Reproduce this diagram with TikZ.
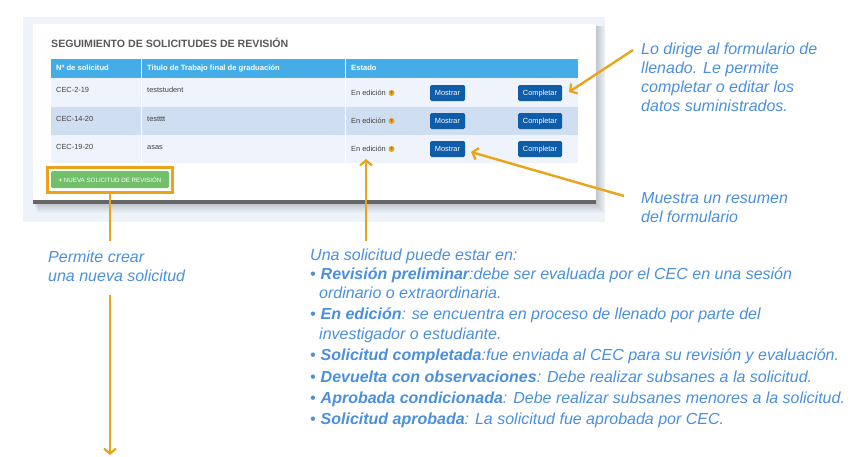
\documentclass[tikz,border=0pt]{standalone}
\usepackage{fontspec}
\setmainfont{Liberation Sans}
\usetikzlibrary{arrows.meta}
\definecolor{fondo}{HTML}{EEF2F9}
\definecolor{cabecera}{HTML}{44ACE6}
\definecolor{filaA}{HTML}{EFF4FC}
\definecolor{filaB}{HTML}{CFDEF1}
\definecolor{boton}{HTML}{0F5CA8}
\definecolor{verde}{HTML}{72BF6A}
\definecolor{naranja}{HTML}{E9A419}
\definecolor{azultexto}{HTML}{4A8FDC}
\definecolor{gris}{HTML}{595959}
\newcommand{\estado}[2]{\makebox[10.5pt][l]{\textbullet}\textbf{#1}#2}
\tikzset{
	celda/.style={anchor=west, inner sep=0pt, text height=5.5pt, text depth=1.5pt, font=\fontsize{7.4}{9}\selectfont, text=black!75},
	titulocol/.style={anchor=west, inner sep=0pt, text height=5.5pt, text depth=1.5pt, font=\bfseries\fontsize{7.6}{9}\selectfont, text=white},
	boton/.style={rectangle, rounded corners=1.5pt, fill=boton, text=white, inner sep=0pt, minimum height=16pt, text height=5.5pt, text depth=1.5pt, font=\fontsize{7.4}{9}\selectfont},
	nota/.style={anchor=north west, inner sep=0pt, align=left, text=azultexto, font=\itshape\fontsize{16}{19.2}\selectfont},
	flecha/.style={draw=naranja, line width=2.4pt, -{Straight Barb[length=5pt,width=12pt,line width=2.2pt]}},
	linea/.style={draw=naranja, line width=2.4pt}
}
\begin{document}
\begin{tikzpicture}[x=1pt, y=-1pt]
	\useasboundingbox (0,0) rectangle (850,456);
	% Panel
	\fill [fondo] (23,17) rectangle (605,222);
	\foreach \s in {1,2,...,9} {
		\fill [black, opacity=.02] (33+\s/2,26) rectangle (596+\s,204+\s);
	}
	\fill [white] (33,24) rectangle (596,200);
	\fill [black!60] (33,200) rectangle (596,204);
	\node [anchor=base west, inner sep=0pt, text=gris, font=\bfseries\fontsize{10.6}{12}\selectfont] (titulo) at (51,47) {SEGUIMIENTO DE SOLICITUDES DE REVISIÓN};
	% Table
	\fill [cabecera] (51,59) rectangle (578,78);
	\fill [filaA] (51,78) rectangle (578,107);
	\fill [filaB] (51,107) rectangle (578,135);
	\fill [filaA] (51,135) rectangle (578,163);
	\fill [white] (140.5,59) rectangle (141.5,163);
	\fill [white] (344.5,59) rectangle (345.5,163);
	\node [titulocol] (colnum) at (56,68) {Nº de solicitud};
	\node [titulocol] (coltit) at (147,68) {Titulo de Trabajo final de graduación};
	\node [titulocol] (colest) at (351,68) {Estado};
	% Rows
	\foreach \i/\y/\num/\tit in {1/90.5/CEC-2-19/teststudent,2/119/CEC-14-20/testttt,3/147/CEC-19-20/asas} {
		\node [celda] (num\i) at (56,\y) {\num};
		\node [celda] (tit\i) at (147,\y) {\tit};
	}
	\foreach \i/\y in {1/93,2/121,3/149} {
		\node [celda] (est\i) at (351,\y) {En edición};
		\node [circle, fill=naranja, inner sep=0pt, minimum size=6pt, text=black!70, font=\bfseries\fontsize{4}{4}\selectfont] (ayuda\i) at (391.5,\y) {?};
		\node [boton, minimum width=35pt] (mostrar\i) at (447.5,\y) {Mostrar};
		\node [boton, minimum width=44pt] (completar\i) at (540,\y) {Completar};
	}
	% Green button
	\node [rectangle, rounded corners=1.5pt, fill=verde, text=white, inner sep=0pt, minimum width=118pt, minimum height=17pt, font=\fontsize{6.2}{7}\selectfont] (nueva) at (110,179.5) {\textbf{+} NUEVA SOLICITUD DE REVISIÓN};
	\node [rectangle, draw=naranja, line width=2.2pt, minimum width=125pt, minimum height=25pt, inner sep=0pt] (marco) at (110,180) {};
	% Notes
	\node [nota] (permite) at (48,250.5) {Permite crear\\una nueva solicitud};
	\node [nota] (lodirige) at (641,42.5) {Lo dirige al formulario de\\llenado. Le permite\\completar o editar los\\datos suministrados.};
	\node [nota] (muestra) at (641,192.5) {Muestra un resumen\\del formulario};
	\node [nota] (intro) at (310,248.5) {Una solicitud puede estar en:};
	\node [nota] (rev) at (310,267.5) {\estado{Revisión preliminar}{:debe ser evaluada por el CEC en una sesión}\\\hspace*{9pt}ordinario o extraordinaria.};
	\node [nota] (edi) at (310,308) {\estado{En edición}{: se encuentra en proceso de llenado por parte del}\\\hspace*{9pt}investigador o estudiante.};
	\node [nota] (comp) at (310,349) {\estado{Solicitud completada}{:fue enviada al CEC para su revisión y evaluación.}};
	\node [nota] (dev) at (310,370.5) {\estado{Devuelta con observaciones}{: Debe realizar subsanes a la solicitud.}};
	\node [nota] (cond) at (310,391.5) {\estado{Aprobada condicionada}{: Debe realizar subsanes menores a la solicitud.}};
	\node [nota] (apr) at (310,412.5) {\estado{Solicitud aprobada}{: La solicitud fue aprobada por CEC.}};
	% Connectors
	\coordinate (finmarco) at (110,241);
	\coordinate (iniabajo) at (110,295);
	\coordinate (finabajo) at (110,455);
	\coordinate (iniestado) at (366,241);
	\coordinate (finestado) at (366,159);
	\coordinate (inicompletar) at (633,50);
	\coordinate (fincompletar) at (569,92);
	\coordinate (inimostrar) at (624,196);
	\coordinate (finmostrar) at (471,152);
	\draw [linea] (marco.south -| finmarco) -- (finmarco);
	\draw [flecha] (iniabajo) -- (finabajo);
	\draw [flecha] (iniestado) -- (finestado);
	\draw [flecha] (inicompletar) -- (fincompletar);
	\draw [flecha] (inimostrar) -- (finmostrar);
\end{tikzpicture}
\end{document}
